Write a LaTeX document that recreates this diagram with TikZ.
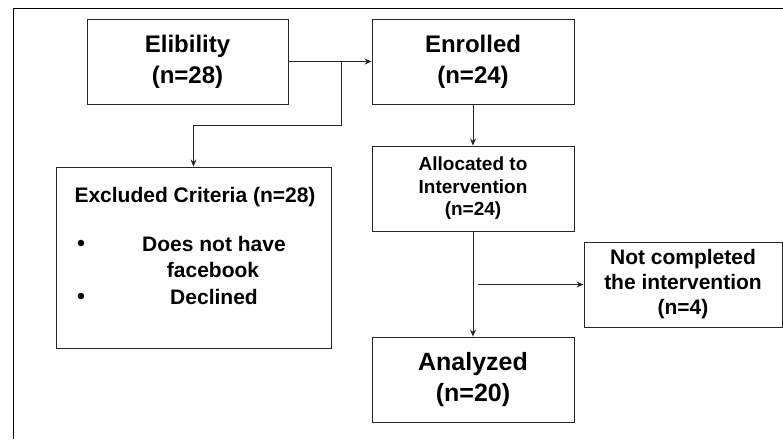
\documentclass[tikz,border=0pt]{standalone}
\usepackage{fontspec}
\setmainfont{Liberation Sans}
\usetikzlibrary{arrows.meta}
\begin{document}
\begin{tikzpicture}[x=1pt,y=-1pt,
  box/.style={draw=black!85, line width=0.9pt, inner sep=0pt, align=center, font=\bfseries},
  txt/.style={inner sep=0pt, anchor=base, font=\bfseries\fontsize{21}{26.5}\selectfont},
  bul/.style={inner sep=0pt, anchor=base, font=\fontsize{24}{24}\selectfont},
  arr/.style={draw=black!85, line width=0.9pt, -{Stealth[length=7pt,width=6pt]}},
  big/.style={font=\bfseries\fontsize{24}{31}\selectfont},
  mid/.style={font=\bfseries\fontsize{21}{25}\selectfont},
  small/.style={font=\bfseries\fontsize{19}{22.5}\selectfont}]
\useasboundingbox (0,0) rectangle (783,439);
% outer frame
\draw[line width=1pt] (13,439) -- (13,8) -- (783,8);

% boxes
\node[box, big, minimum width=201pt, minimum height=85pt] (elig) at (187.5,61.5)
  {Elibility\\(n=28)};
\node[box, big, minimum width=202pt, minimum height=85pt] (enr) at (473,61.5)
  {Enrolled\\(n=24)};
\node[box, small, minimum width=202pt, minimum height=85pt] (alloc) at (473,188.5)
  {Allocated to\\Intervention\\(n=24)};
\node[box, font=\bfseries\fontsize{25}{31}\selectfont, minimum width=202pt, minimum height=85pt] (anal) at (473,379.5)
  {Analyzed\\(n=20)};
\node[box, mid, minimum width=198pt, minimum height=85pt] (notc) at (683,284.5)
  {Not completed\\the intervention\\(n=4)};
\node[box, minimum width=275pt, minimum height=181pt] (excl) at (193.5,257.5) {};

% contents of the exclusion box
\node[txt] (excltitle) at (195,202) {Excluded Criteria (n=28)};
\node[txt] (item1a) at (214,251) {Does not have};
\node[txt] (item1b) at (213,277.5) {facebook};
\node[txt] (item2) at (214,304) {Declined};
\node[bul] (bul1) at (81,251) {\textbullet};
\node[bul] (bul2) at (81,304) {\textbullet};

% connectors
\coordinate (split) at (341,62);
\coordinate (side) at (478,284.5);
\draw[arr] (elig) -- (enr);
\draw[arr] (split) -- (341,125) -| (excl.north);
\draw[arr] (enr) -- (alloc);
\draw[arr] (alloc) -- (anal);
\draw[arr] (side) -- (notc);
\end{tikzpicture}
\end{document}
